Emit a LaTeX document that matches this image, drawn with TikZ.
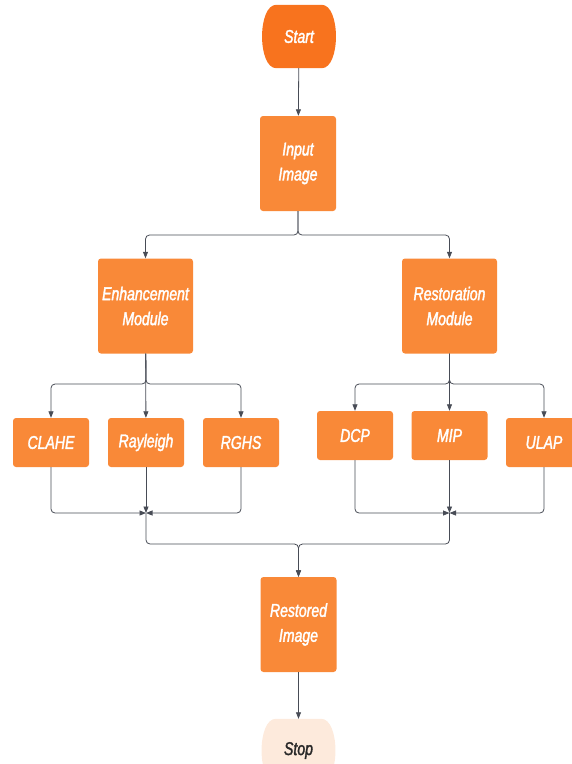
\documentclass[tikz,border=0pt]{standalone}
\usepackage{fontspec}
\usepackage{xcolor}
\usepackage{tikz}
\usetikzlibrary{arrows.meta, positioning, calc, backgrounds}
\newfontfamily\boxfont[FakeStretch=0.76,FakeBold=1.8]{Liberation Sans}
\definecolor{boxorange}{RGB}{249,137,56}
\definecolor{termorange}{RGB}{248,115,30}
\definecolor{stoppeach}{RGB}{253,234,220}
\definecolor{linegray}{RGB}{72,76,86}
\definecolor{stoptext}{RGB}{40,40,40}
% terminator outline behind a named node
\newcommand{\termshape}[2]{%
  \begin{scope}[on background layer]
    \fill[#2] ($(#1.north west)+(15,0)$) -- ($(#1.north east)+(-15,0)$)
      .. controls ($(#1.north east)+(4,0)$) and ($(#1.south east)+(4,0)$) .. ($(#1.south east)+(-15,0)$)
      -- ($(#1.south west)+(15,0)$)
      .. controls ($(#1.south west)+(-4,0)$) and ($(#1.north west)+(-4,0)$) .. cycle;
  \end{scope}}
\tikzset{
  procbox/.style={rectangle, rounded corners=3pt, fill=boxorange, text=white,
    minimum width=76, minimum height=95, inner sep=0pt, align=center,
    font=\boxfont\itshape\fontsize{18.5}{25}\selectfont},
  algobox/.style={procbox, minimum height=49},
  termbox/.style={procbox, fill=none, minimum width=75, minimum height=63},
  flow/.style={draw=linegray, line width=0.8pt, rounded corners=4pt,
    -{Triangle[length=6.5pt,width=5pt]}}
}
\begin{document}
\begin{tikzpicture}[x=1pt, y=-1pt]
  \useasboundingbox (0,0) rectangle (571,764);
  % Start / end
  \node[termbox] (start) at (299,36.5) {Start};
  \node[termbox, text=stoptext] (stop) at (298.5,750.5) {Stop};
  \termshape{start}{termorange}
  \termshape{stop}{stoppeach}
  % Main column
  \node[procbox] (input) at (298,163.5) {Input\\Image};
  \node[procbox, minimum width=95] (enh) at (145.5,306) {Enhancement\\Module};
  \node[procbox, minimum width=95] (rest) at (449.5,306) {Restoration\\Module};
  \node[procbox] (restored) at (298.5,624.5) {Restored\\Image};
  % Enhancement methods
  \node[algobox] (clahe) at (51,442.5) {CLAHE};
  \node[algobox] (rayleigh) at (146,442.5) {Rayleigh};
  \node[algobox] (rghs) at (241,442.5) {RGHS};
  % Restoration methods
  \node[algobox] (dcp) at (355,435.5) {DCP};
  \node[algobox] (mip) at (449.5,435.5) {MIP};
  \node[algobox] (ulap) at (544,442.5) {ULAP};
  % Junction points
  \coordinate (split1) at (298,235);
  \coordinate (split2) at (146,384);
  \coordinate (split3) at (449.5,384);
  \coordinate (join1) at (146,513);
  \coordinate (join2) at (449.5,513);
  \coordinate (merge) at (298.5,544);
  % Connectors
  \draw[flow] (start) -- (input);
  \draw[flow] (input) -- (split1) -| (enh);
  \draw[flow] (input) -- (split1) -| (rest);
  \draw[flow] (enh) -- (split2) -| (clahe);
  \draw[flow] (enh) -- (rayleigh);
  \draw[flow] (enh) -- (split2) -| (rghs);
  \draw[flow] (rest) -- (split3) -| (dcp);
  \draw[flow] (rest) -- (mip);
  \draw[flow] (rest) -- (split3) -| (ulap);
  \draw[flow] (clahe) |- (join1);
  \draw[flow] (rghs) |- (join1);
  \draw[flow] (rayleigh) -- (join1);
  \draw[flow] (dcp) |- (join2);
  \draw[flow] (ulap) |- (join2);
  \draw[flow] (mip) -- (join2);
  \draw[flow] (join1) |- (merge) -- (restored);
  \draw[flow] (join2) |- (merge) -- (restored);
  \draw[flow] (restored) -- (stop);
\end{tikzpicture}
\end{document}
